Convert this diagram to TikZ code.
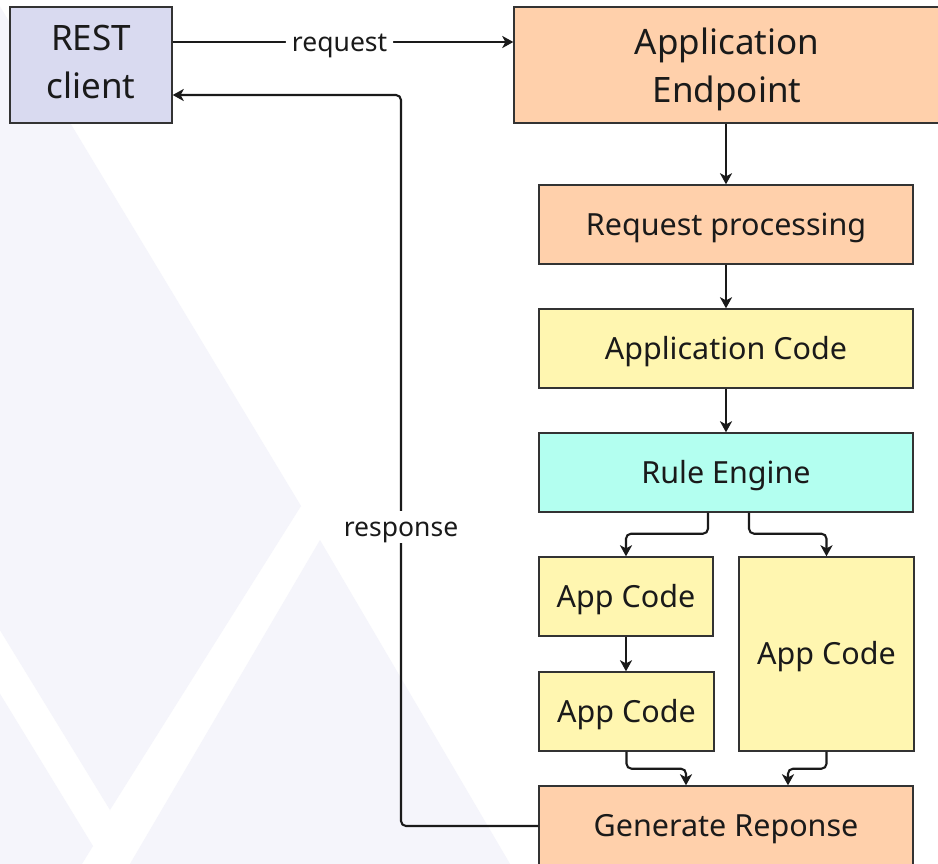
\documentclass[tikz,border=0pt]{standalone}
\usepackage{fontspec}
\setmainfont{Noto Sans}
\usetikzlibrary{arrows.meta}
\definecolor{bgshape}{RGB}{245,245,251}
\definecolor{clientfill}{RGB}{217,218,240}
\definecolor{peach}{RGB}{255,208,171}
\definecolor{codeyellow}{RGB}{255,246,176}
\definecolor{rulecyan}{RGB}{179,255,240}
\definecolor{edge}{RGB}{51,51,51}
\definecolor{ink}{RGB}{26,26,26}
\begin{document}
\begin{tikzpicture}[x=1pt,y=-1pt,
  box/.style={draw=edge, line width=1.4pt, inner sep=0pt, align=center, text=ink},
  big/.style={font=\fontsize{35}{48}\selectfont, align=center, text=ink},
  mid/.style={font=\fontsize{30.5}{36}\selectfont, text height=26pt, text depth=5pt},
  flow/.style={draw=ink, line width=2.1pt, rounded corners=5pt,
    -{Stealth[length=11pt,width=12pt,inset=3pt]}},
  lbl/.style={fill=white, inner xsep=6pt, inner ysep=3pt, text=ink,
    font=\fontsize{26.5}{30}\selectfont, text height=23pt, text depth=3.2pt}]
\path[use as bounding box, clip] (0,0) rectangle (938,863);
\fill[white] (0,0) rectangle (938,863);

% faint watermark shapes
\fill[bgshape] (-34,-50) -- (301,506) -- (110,810) -- (-300,140) -- cycle;
\fill[bgshape] (-100,530) -- (93,846) -- (60,900) -- (-100,900) -- cycle;
\fill[bgshape] (320,540) -- (540,915) -- (100,915) -- cycle;

% boxes
\node[box, fill=clientfill, minimum width=162pt, minimum height=116pt,
  label={[big, yshift=3pt]center:REST\\client}] (client) at (91,65) {};
\node[box, fill=peach, minimum width=426pt, minimum height=116pt,
  label={[big, yshift=-4.5pt]center:Application\\Endpoint}] (endpoint) at (727,65) {};
\node[box, mid, fill=peach, minimum width=374pt, minimum height=79pt] (reqproc) at (726,224.5) {Request processing};
\node[box, mid, fill=codeyellow, minimum width=374pt, minimum height=79pt] (appcode) at (726,348.5) {Application Code};
\node[box, mid, fill=rulecyan, minimum width=374pt, minimum height=79pt] (rule) at (726,472.5) {Rule Engine};
\node[box, mid, fill=codeyellow, minimum width=174pt, minimum height=79pt] (ac1) at (626,596.5) {App Code};
\node[box, mid, fill=codeyellow, minimum width=175pt, minimum height=79pt] (ac2) at (626.5,711.5) {App Code};
\node[box, mid, fill=codeyellow, minimum width=175pt, minimum height=194pt] (ac3) at (826.5,654) {App Code};
\node[box, mid, fill=peach, minimum width=374pt, minimum height=80pt] (gen) at (726,826) {Generate Reponse};

% connectors
\draw[flow] ([yshift=23pt]client.east) -- node[lbl, pos=0.49] {request} ([yshift=23pt]client.east -| endpoint.west);
\coordinate (back) at (401,95);
\draw[flow] (gen.west) -| (back) -- ([yshift=-30pt]client.east);
\node[lbl] (resp) at (401,527) {response};

\draw[flow] (endpoint.south -| reqproc.north) -- (reqproc.north);
\draw[flow] (reqproc.south) -- (appcode.north);
\draw[flow] (appcode.south) -- (rule.north);
\draw[flow] ([xshift=-18pt]rule.south) -- ++(0,21) -| (ac1.north);
\draw[flow] ([xshift=23pt]rule.south) -- ++(0,21) -| (ac3.north);
\draw[flow] (ac1.south) -- (ac1.south |- ac2.north);
\draw[flow] (ac2.south) -- ++(0,17) -| ([xshift=-40pt]gen.north);
\draw[flow] (ac3.south) -- ++(0,17) -| ([xshift=62pt]gen.north);
\end{tikzpicture}
\end{document}
